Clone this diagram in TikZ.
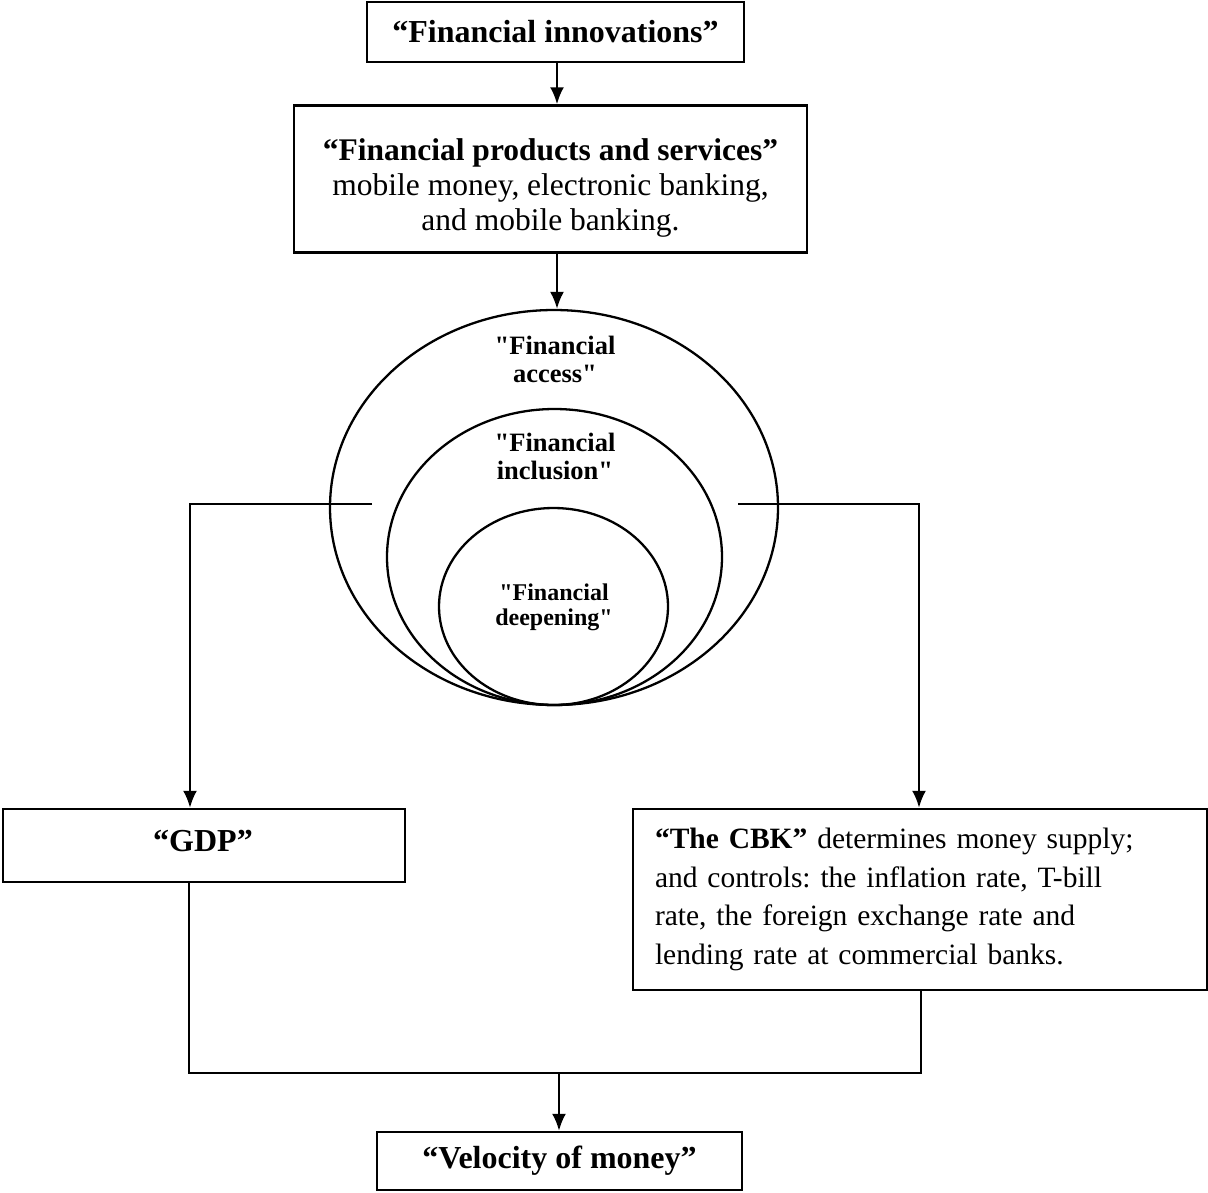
\documentclass[tikz,border=0pt]{standalone}
\usepackage{fontspec}
\setmainfont{Liberation Serif}[Ligatures=TeXOff]
\usetikzlibrary{arrows.meta,shapes.geometric}
\begin{document}
\frenchspacing
\begin{tikzpicture}[x=1pt,y=-1pt,
  box/.style={draw,line width=2.5pt,inner sep=0pt,align=center},
  ell/.style={draw,ellipse,line width=2.3pt,inner sep=0pt},
  bigbold/.style={font=\fontsize{32}{36}\selectfont\bfseries},
  plaintxt/.style={align=center,inner sep=0pt},
  circtxt/.style={align=center,inner sep=0pt,font=\fontsize{26.5}{28}\selectfont\bfseries},
  smallcirctxt/.style={align=center,inner sep=0pt,font=\fontsize{24}{25}\selectfont\bfseries},
  link/.style={line width=2.3pt},
  arr/.style={line width=2.3pt,-{Latex[length=17pt,width=14pt]}}]
\useasboundingbox (0,0) rectangle (1208,1192);

% boxes
\node[box,bigbold,minimum width=377pt,minimum height=60pt] (innov) at (555.5,32) {“Financial innovations”};
\node[box,minimum width=513pt,minimum height=147pt] (products) at (550.5,179) {};
\node[plaintxt,font=\fontsize{31.5}{35}\selectfont] (productstxt) at (550.5,188)
  {{\bfseries “Financial products and services”}\\mobile money, electronic banking,\\and mobile banking.};

% nested ellipses
\node[ell,minimum width=448pt,minimum height=395pt] (access) at (554,507.5) {};
\node[ell,minimum width=335pt,minimum height=296pt] (inclusion) at (554.5,557) {};
\node[ell,minimum width=229pt,minimum height=197pt] (deepening) at (553.5,606.5) {};
\node[circtxt] (accesstxt) at (555,359) {"Financial\\access"};
\node[circtxt] (inclusiontxt) at (555,456) {"Financial\\inclusion"};
\node[smallcirctxt] (deepeningtxt) at (554,607) {"Financial\\deepening"};

% lower boxes
\node[box,minimum width=402pt,minimum height=73pt] (gdp) at (204,845.5) {};
\node[plaintxt,bigbold] (gdptxt) at (203,841) {“GDP”};
\node[box,align=left,inner xsep=22pt,text width=530pt,minimum width=574pt,minimum height=181pt,
      font=\fontsize{29.5}{38.7}\selectfont] (cbk) at (920,899.5)
  {{\bfseries “The CBK”} determines money supply;\\and controls: the inflation rate, T-bill\\rate, the foreign exchange rate and\\lending rate at commercial banks.};
\node[box,bigbold,minimum width=365pt,minimum height=58pt] (velocity) at (559.5,1161) {“Velocity of money”};

% junction points
\coordinate (lstub) at (372,504);
\coordinate (lcorner) at (190,504);
\coordinate (rstub) at (738,504);
\coordinate (rcorner) at (919,504);
\coordinate (bl) at (189,1073);
\coordinate (br) at (921,1073);
\coordinate (bm) at (559,1073);
\coordinate (topx) at (557,0);

% connectors
\draw[arr] (innov.south -| topx) -- (products.north -| topx);
\draw[arr] (products.south -| topx) -- (access.north -| topx);
\draw[arr] (lstub) -- (lcorner) -- (lcorner |- gdp.north);
\draw[arr] (rstub) -- (rcorner) -- (rcorner |- cbk.north);
\draw[link] (gdp.south -| bl) -- (bl) -- (br) -- (cbk.south -| br);
\draw[arr] (bm) -- (bm |- velocity.north);
\end{tikzpicture}
\end{document}
